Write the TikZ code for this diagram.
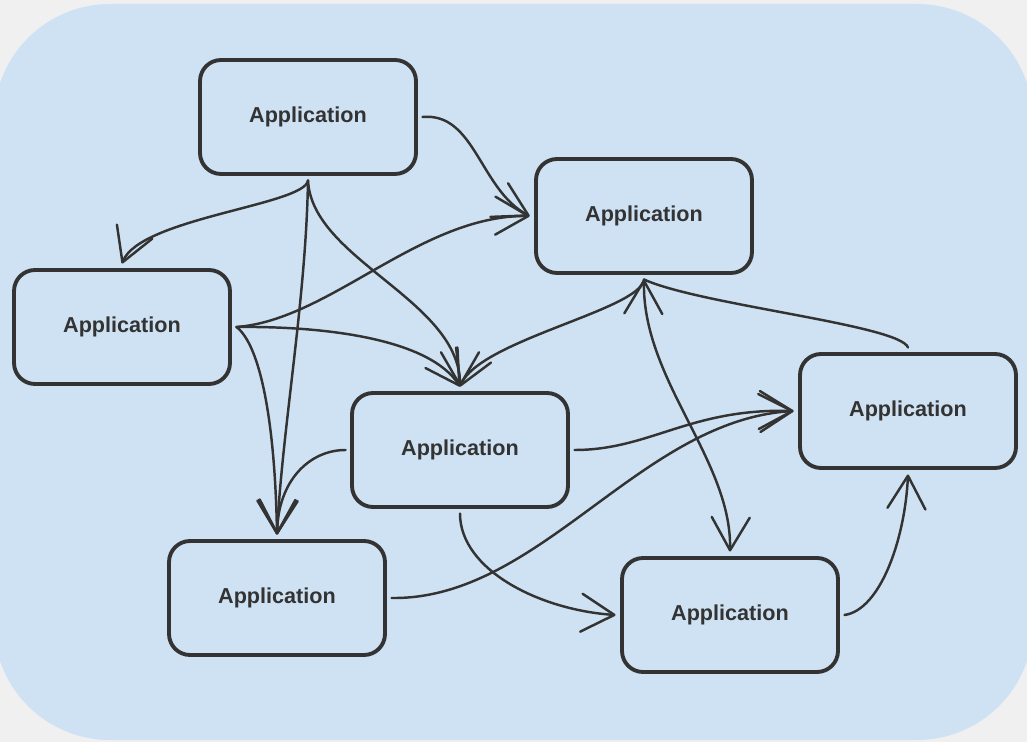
\documentclass[tikz,border=0pt]{standalone}
\usepackage{fontspec}
\setmainfont{Liberation Sans}
\usetikzlibrary{arrows.meta}

\definecolor{bgGray}{HTML}{F0F0F0}
\definecolor{panelBlue}{HTML}{CFE2F3}
\definecolor{inkGray}{HTML}{333333}

\tikzset{barb/.tip={Straight Barb[length=0.66cm,width=0.76cm,round]}}

\begin{document}
\begin{tikzpicture}[x=0.02cm,y=-0.02cm,
  app/.style={draw=inkGray,line width=2.2pt,fill=panelBlue,rounded corners=0.42cm,
    minimum width=4.32cm,minimum height=2.28cm,inner sep=0pt,outer sep=0.13cm,
    text=inkGray,font=\fontsize{12.3}{14}\selectfont\bfseries},
  link/.style={draw=inkGray,line width=1.4pt,line cap=round},
  flow/.style={link,-barb},
  both/.style={link,barb-barb}]

  % Canvas
  \useasboundingbox (0,0) rectangle (1027,742);
  \fill[bgGray] (0,0) rectangle (1027,742);
  \fill[panelBlue,rounded corners=2.32cm] (-6,4) rectangle (1033,740);

  % Applications
  \def\AppList{A/308/117,B/644/216,C/122/327,D/460/450,E/908/411,F/277/598,G/730/615}
  \foreach \n/\x/\y in \AppList
      {\node[app] (\n) at (\x,\y) {Application};}

  % Connections from the top box
  \draw[flow] (A.east) .. controls (475,112) and (480,190) .. (B.west);
  \draw[flow] (A.south) .. controls (305,205) and (140,218) .. (C.north);
  \draw[flow] (A.south) .. controls (306,300) and (282,430) .. (F.north);
  \draw[flow] (A.south) .. controls (312,260) and (460,300) .. (D.north);

  % Connections from the left box
  \draw[flow] (C.east) .. controls (330,320) and (420,215) .. (B.west);
  \draw[flow] (C.east) .. controls (330,326) and (430,340) .. (D.north);
  \draw[flow] (C.east) .. controls (260,345) and (275,420) .. (F.north);

  % Connections around the upper right box
  \draw[flow] (B.south) .. controls (640,310) and (480,340) .. (D.north);
  \draw[both] (B.south) .. controls (642,380) and (732,460) .. (G.north);
  \draw[link] (E.north) .. controls (900,325) and (700,305) .. (B.south);

  % Connections from the middle box
  \draw[flow] (D.west) .. controls (310,450) and (278,480) .. (F.north);
  \draw[flow] (D.east) .. controls (650,450) and (690,408) .. (E.west);
  \draw[flow] (D.south) .. controls (460,570) and (540,610) .. (G.west);

  % Lower boxes
  \draw[flow] (F.east) .. controls (540,600) and (640,420) .. (E.west);
  \draw[flow] (G.east) .. controls (880,610) and (905,540) .. (E.south);

\end{tikzpicture}
\end{document}
